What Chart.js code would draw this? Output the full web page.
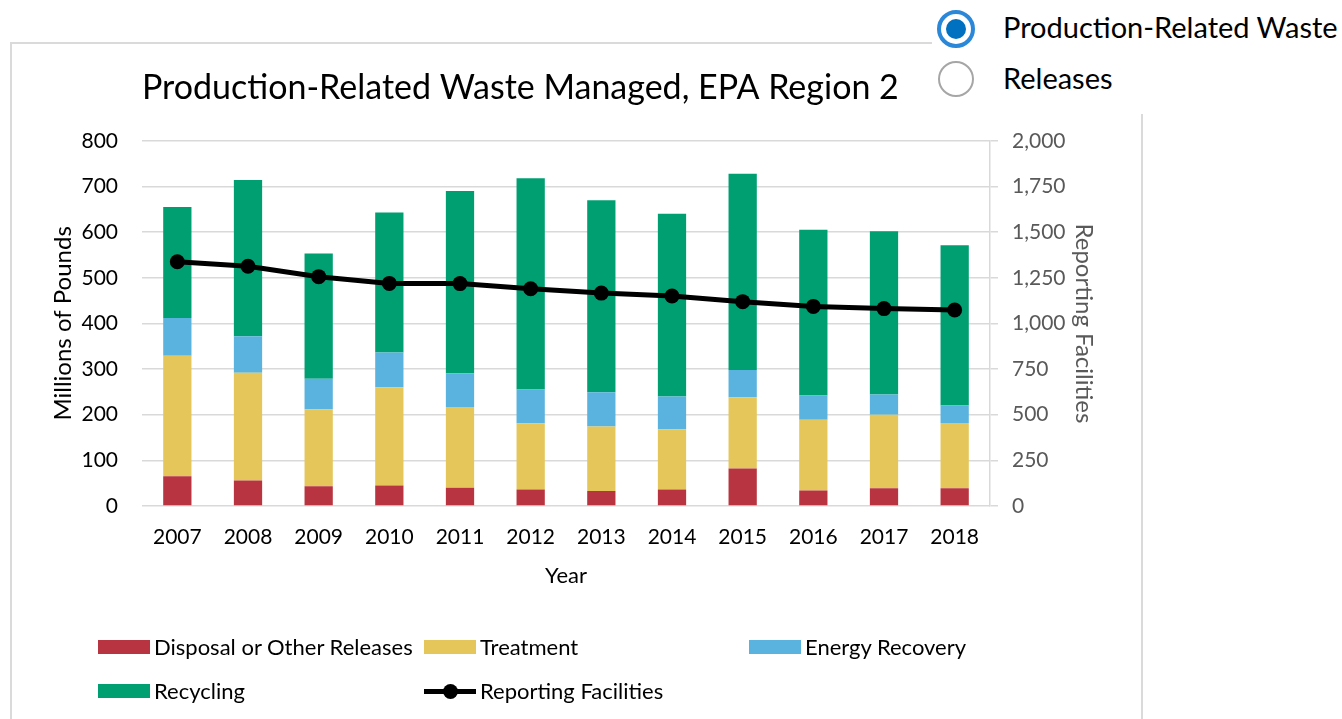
<!DOCTYPE html>
<html>
<head>
<meta charset="utf-8">
<script src="https://cdn.jsdelivr.net/npm/chart.js@4"></script>
<style>
  html, body { margin: 0; padding: 0; background: #fff; }
  body { width: 1342px; height: 719px; overflow: hidden; position: relative; font-family: Lato, sans-serif; }
  #frame { position: absolute; left: 10px; top: 42px; width: 1133px; height: 700px; border: 2px solid #dadada; box-sizing: border-box; }
  #wrap { position: absolute; left: 0; top: 0; width: 1342px; height: 719px; }
  #picker { position: absolute; left: 932px; top: 0; width: 410px; height: 114px; background: #fff; }
  .opt { position: absolute; left: 71px; font-size: 29px; color: #000; line-height: 1; white-space: nowrap; }
  .dot { position: absolute; box-sizing: border-box; border-radius: 50%; }
  #legend { position: absolute; left: 0; top: 0; width: 1342px; height: 719px; pointer-events: none; }
  .item { position: absolute; font-size: 22px; color: #000; white-space: nowrap; line-height: 1; }
  .sw { position: absolute; left: 0; }
  .item span.t { position: absolute; left: 56px; top: -11px; }
</style>
</head>
<body>
<div id="frame"></div>
<div id="wrap"><canvas id="waste" width="1342" height="719"></canvas></div>
<div id="picker">
  <div class="dot" style="left:5px;top:10px;width:38px;height:38px;border:4px solid #2b88d8;"></div>
  <div class="dot" style="left:14px;top:19px;width:20px;height:20px;background:#0070c0;"></div>
  <div class="opt" style="top:12px;">Production-Related Waste</div>
  <div class="dot" style="left:6px;top:61px;width:36px;height:36px;border:2px solid #a6a6a6;"></div>
  <div class="opt" style="top:63px;">Releases</div>
</div>
<div id="legend"></div>
<script>
/* Dane z wykresu (miliony funtów, liczba zakładów) */
var years = ['2007', '2008', '2009', '2010', '2011', '2012', '2013', '2014', '2015', '2016', '2017', '2018'];
var disposal = [65, 56, 43, 45, 40, 36, 33, 36, 82, 34, 39, 39];
var treatment = [264, 236, 169, 215, 177, 145, 141, 132, 156, 155, 161, 143];
var energyRecovery = [83, 80, 67, 76, 74, 74, 75, 72, 60, 53, 44, 38];
var recycling = [243, 342, 274, 307, 399, 463, 421, 400, 430, 363, 358, 351];
var facilities = [1338, 1313, 1256, 1219, 1218, 1190, 1166, 1150, 1119, 1093, 1081, 1073];
var leftTicks = [0, 100, 200, 300, 400, 500, 600, 700, 800];
var rightTicks = [0, 250, 500, 750, 1000, 1250, 1500, 1750, 2000];

var ctxWaste = document.getElementById('waste');
var gridColor = '#d9d9d9';

var barSet = function (label, data, color) {
    return {
        type: 'bar',
        label: label,
        data: data,
        backgroundColor: color,
        borderWidth: 0,
        barPercentage: 0.4,
        categoryPercentage: 1,
        yAxisID: 'y',
        order: 1
    };
};

var chartWaste = new Chart(ctxWaste, {
    type: 'bar',
    data: {
        labels: years,
        datasets: [
            barSet('Disposal or Other Releases', disposal, '#b93441'),
            barSet('Treatment', treatment, '#e5c65a'),
            barSet('Energy Recovery', energyRecovery, '#5ab3de'),
            barSet('Recycling', recycling, '#009f72'),
            {
                type: 'line',
                label: 'Reporting Facilities',
                data: facilities,
                borderColor: '#000',
                backgroundColor: '#000',
                borderWidth: 5,
                pointRadius: 7.5,
                pointBackgroundColor: '#000',
                pointBorderWidth: 0,
                tension: 0,
                yAxisID: 'y1',
                order: 0
            }
        ]
    },
    options: {
        responsive: false,
        animation: false,
        maintainAspectRatio: false,
        layout: { padding: { left: 49, right: 244, top: 50, bottom: 130 } },
        plugins: {
            legend: { display: false },
            tooltip: { enabled: false },
            title: {
                display: true,
                text: 'Production-Related Waste Managed, EPA Region 2',
                fullSize: false,
                align: 'start',
                color: '#000',
                font: { family: 'Lato', size: 34, weight: 'normal', lineHeight: 1.2 },
                padding: { top: 18, bottom: 32 }
            }
        },
        scales: {
            x: {
                stacked: true,
                grid: { display: false },
                border: { display: false },
                ticks: { color: '#000', font: { family: 'Lato', size: 21 }, padding: 11, maxRotation: 0 },
                title: { display: true, text: 'Year', color: '#000', font: { family: 'Lato', size: 22, lineHeight: 1.2 }, padding: 0 },
                afterFit: function (scale) { scale.height = 83; }
            },
            y: {
                stacked: true,
                position: 'left',
                min: 0,
                max: 800,
                afterBuildTicks: function (scale) { scale.ticks = leftTicks.map(function (v) { return { value: v }; }); },
                grid: { color: gridColor, lineWidth: 1.5, drawTicks: false },
                border: { display: false },
                ticks: { color: '#000', font: { family: 'Lato', size: 21 }, padding: 24 },
                title: { display: true, text: 'Millions of Pounds', color: '#000', font: { family: 'Lato', size: 24, lineHeight: 1.2 }, padding: 0 },
                afterFit: function (scale) { scale.width = 93; }
            },
            y1: {
                position: 'right',
                min: 0,
                max: 2000,
                afterBuildTicks: function (scale) { scale.ticks = rightTicks.map(function (v) { return { value: v }; }); },
                grid: { drawOnChartArea: false, color: gridColor, lineWidth: 1.5, tickLength: 8 },
                border: { display: true, color: gridColor, width: 1.5 },
                ticks: {
                    color: '#595959',
                    font: { family: 'Lato', size: 21 },
                    padding: 14,
                    callback: function (v) { return Number(v).toLocaleString('en-US'); }
                },
                title: { display: true, text: 'Reporting Facilities', color: '#595959', font: { family: 'Lato', size: 24, lineHeight: 1.2 }, padding: 0 },
                afterFit: function (scale) { scale.width = 108; }
            }
        }
    }
});

/* Legenda w układzie siatki, jak w oryginale */
var legendBox = document.getElementById('legend');
var legendPos = [[98, 647], [424, 647], [749, 647], [98, 691], [424, 691]];
chartWaste.data.datasets.forEach(function (ds, i) {
    var item = document.createElement('div');
    item.className = 'item';
    item.style.left = legendPos[i][0] + 'px';
    item.style.top = legendPos[i][1] + 'px';
    var sw = document.createElement('div');
    sw.className = 'sw';
    if (ds.type === 'line') {
        sw.style.cssText = 'left:0;top:-2px;width:52px;height:5px;background:' + ds.borderColor + ';';
        var dot = document.createElement('div');
        dot.style.cssText = 'position:absolute;left:19px;top:-5px;width:15px;height:15px;border-radius:50%;background:' + ds.borderColor + ';';
        sw.appendChild(dot);
    } else {
        sw.style.cssText = 'left:0;top:-7px;width:52px;height:14px;background:' + ds.backgroundColor + ';';
    }
    var t = document.createElement('span');
    t.className = 't';
    t.textContent = ds.label;
    item.appendChild(sw);
    item.appendChild(t);
    legendBox.appendChild(item);
});
</script>
</body>
</html>
